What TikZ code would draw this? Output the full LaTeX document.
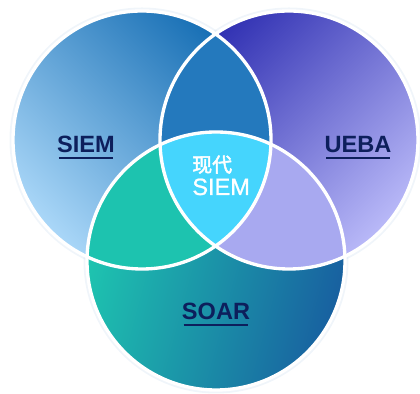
\documentclass[tikz,border=0pt]{standalone}
\usepackage{fontspec}
\setmainfont{Liberation Sans}
\newfontfamily\cjk{Noto Sans CJK SC}[AutoFakeBold=2.5]
\newfontfamily\medsans{Liberation Sans}[FakeBold=0.9]
\usepackage{tikz}
\usetikzlibrary{positioning}
\definecolor{navy}{RGB}{13,31,92}
\definecolor{siemdark}{RGB}{22,110,180}
\definecolor{siemlight}{RGB}{170,215,248}
\definecolor{uebadark}{RGB}{48,48,178}
\definecolor{uebalight}{RGB}{185,185,248}
\definecolor{soarteal}{RGB}{30,198,176}
\definecolor{soarblue}{RGB}{24,96,160}
\definecolor{toplens}{RGB}{36,121,189}
\definecolor{leftlens}{RGB}{29,195,175}
\definecolor{rightlens}{RGB}{168,169,240}
\definecolor{core}{RGB}{69,213,253}
\definecolor{halo}{RGB}{205,222,240}
\tikzset{venn border/.style={draw=white,line width=1.9pt},
         glow/.style={fill=halo,opacity=0.3},
         set label/.style={inner sep=0pt,anchor=base,text=navy,font=\fontsize{13.4}{16}\selectfont\bfseries},
         core label/.style={inner sep=0pt,anchor=base west,text=white},
         uline/.style={navy,line width=1.15pt}
}
\begin{document}
\begin{tikzpicture}[x=0.02cm,y=-0.02cm]
\useasboundingbox (0,0) rectangle (420,394);
\coordinate (siem) at (142,140);
\coordinate (ueba) at (289,140);
\coordinate (soar) at (216,261);
% soft halo
\foreach \c in {siem,ueba,soar}{
  \fill[glow] (\c) circle [radius=132.5];
}
% the three sets
\shade[top color=siemdark,bottom color=siemlight,shading angle=-45] (siem) circle [radius=129];
\shade[top color=uebadark,bottom color=uebalight,shading angle=45] (ueba) circle [radius=129];
\shade[top color=soarteal,bottom color=soarblue,shading angle=75] (soar) circle [radius=129];
% overlaps
\begin{scope}
  \clip (siem) circle [radius=129];
  \fill[toplens] (ueba) circle [radius=129];
  \fill[leftlens] (soar) circle [radius=129];
\end{scope}
\begin{scope}
  \clip (ueba) circle [radius=129];
  \fill[rightlens] (soar) circle [radius=129];
\end{scope}
\begin{scope}
  \clip (siem) circle [radius=129];
  \clip (ueba) circle [radius=129];
  \fill[core] (soar) circle [radius=129];
\end{scope}
\foreach \c in {siem,ueba,soar}{
  \draw[venn border] (\c) circle [radius=129];
}
% labels
\node[set label] (siemlbl) at (86,153) {SIEM};
\node[set label] (uebalbl) at (358,153) {UEBA};
\node[set label] (soarlbl) at (216,320) {SOAR};
\foreach \l in {siemlbl,uebalbl,soarlbl}{
  \draw[uline] ([xshift=1.2pt,yshift=-2.9pt]\l.base west) -- ([xshift=-1.2pt,yshift=-2.9pt]\l.base east);
}
\node[core label,font=\cjk\bfseries\fontsize{11.3}{13}\selectfont] (corecn) at (192,172) {现代};
\node[core label,font=\medsans\fontsize{13.4}{16}\selectfont] (coreen) at (192,195) {SIEM};
\end{tikzpicture}
\end{document}
